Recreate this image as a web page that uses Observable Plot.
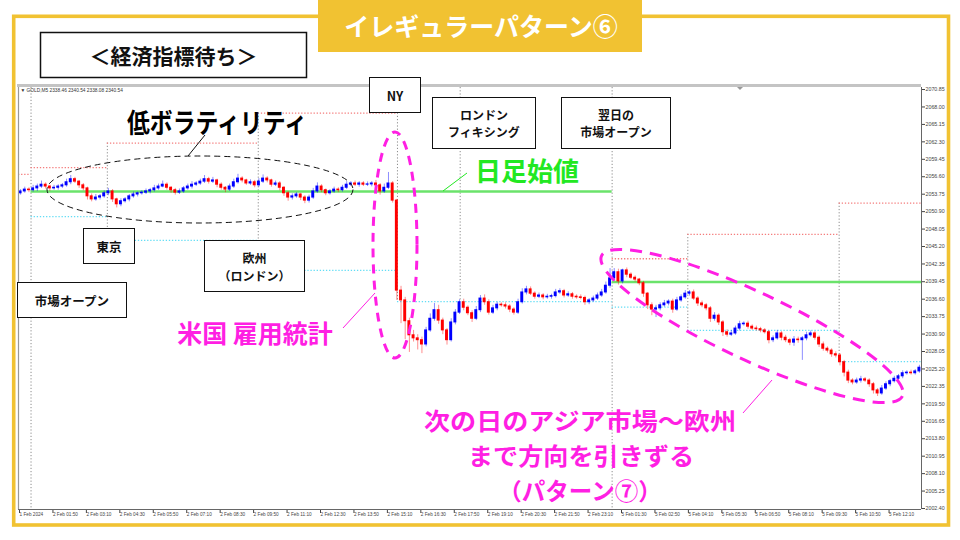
<!DOCTYPE html>
<html><head><meta charset="utf-8">
<script src="https://cdn.jsdelivr.net/npm/d3@7"></script>
<script src="https://cdn.jsdelivr.net/npm/@observablehq/plot@0.6"></script>
<style>
html,body{margin:0;padding:0;background:#fff;}
#wrap{position:relative;width:960px;height:540px;overflow:hidden;background:#fff;}
#wrap > svg{position:absolute;left:0;top:0;}
</style></head><body><div id="wrap"></div>
<script>
// ---- data (GOLD, 10-minute bars) ----
const firstOpen = 2053.9;
const closes = [
2054.2,2054.5,2054.4,2054.7,2055.0,2055.3,2055.0,2054.7,2054.8,2055.0,
2055.2,2055.7,2056.2,2055.8,2055.2,2054.7,2053.4,2052.9,2053.2,2053.4,
2053.9,2054.2,2052.9,2052.1,2052.6,2052.9,2053.4,2053.7,2053.9,2054.0,
2054.2,2054.4,2054.7,2055.0,2055.3,2054.8,2054.4,2054.0,2054.2,2054.7,
2055.0,2055.3,2055.5,2055.8,2056.2,2055.8,2056.0,2055.3,2054.8,2054.5,
2055.0,2055.7,2056.3,2056.0,2055.5,2055.7,2055.2,2055.8,2056.3,2056.0,
2055.3,2055.5,2054.8,2053.9,2053.2,2053.4,2053.7,2053.2,2052.7,2053.2,
2054.2,2055.0,2054.4,2053.9,2054.2,2054.5,2054.4,2054.8,2055.3,2055.5,
2055.3,2055.5,2055.3,2055.35,2055.5,2055.2,2054.2,2054.8,2055.5,2052.7,
2038.0,2036.4,2033.0,2030.7,2030.2,2029.9,2029.2,2031.5,2033.4,2034.8,
2033.1,2031.5,2029.9,2032.8,2034.4,2036.1,2035.2,2034.3,2033.4,2034.8,
2036.7,2036.1,2034.4,2035.1,2035.7,2035.6,2035.4,2034.9,2034.4,2036.1,
2037.7,2038.2,2037.5,2037.0,2037.2,2036.9,2037.0,2037.1,2037.7,2037.9,
2037.2,2037.4,2037.0,2036.9,2036.8,2036.1,2036.4,2036.7,2037.2,2037.7,
2038.8,2040.0,2041.0,2039.5,2041.3,2040.6,2040.1,2039.8,2039.2,2037.5,
2035.6,2034.9,2035.1,2035.6,2035.9,2036.2,2034.9,2036.4,2036.9,2037.5,
2037.7,2036.7,2035.9,2035.6,2035.1,2033.4,2033.9,2032.8,2031.2,2030.8,
2031.0,2031.8,2032.5,2032.6,2032.1,2031.8,2031.7,2031.5,2031.2,2029.9,
2030.2,2031.0,2030.3,2029.9,2029.5,2030.0,2029.9,2030.2,2030.7,2031.0,
2030.3,2029.2,2028.5,2028.2,2027.6,2027.4,2026.3,2024.6,2023.3,2023.0,
2023.3,2023.5,2023.3,2022.7,2021.7,2021.2,2022.0,2022.7,2023.2,2023.6,
2024.0,2024.5,2024.6,2024.5,2024.8,2025.4];
const upWick = [
0.3,0.4,0.3,0.5,0.4,0.6,0.3,0.2,0.4,0.3,0.3,0.5,0.6,0.3,0.2,0.3,0.2,0.4,0.5,0.3,
0.4,0.5,0.3,0.2,0.4,0.3,0.3,0.4,0.2,0.3,0.4,0.3,0.5,0.4,0.6,0.3,0.2,0.3,0.4,0.3,
0.4,0.5,0.3,0.4,0.6,0.3,0.5,0.2,0.3,0.2,0.4,0.5,0.7,0.3,0.2,0.4,0.3,0.5,0.6,0.3,
0.2,0.4,0.3,0.2,0.3,0.4,0.3,0.2,0.3,0.4,0.5,0.6,0.3,0.2,0.3,0.4,0.3,0.4,0.5,0.3,
0.4,0.3,0.3,0.4,0.3,0.5,0.3,0.6,1.8,0.3,0.2,0.7,0.5,0.5,0.8,0.6,0.5,0.5,0.8,1.1,
0.8,0.4,0.3,0.6,0.5,0.4,0.5,0.3,0.4,0.6,0.5,0.6,0.4,0.5,0.4,0.3,0.4,0.3,0.3,0.5,
0.6,0.5,0.4,0.3,0.4,0.3,0.4,0.3,0.5,0.4,0.3,0.4,0.3,0.3,0.4,0.3,0.3,0.4,0.4,0.5,
0.6,1.6,0.6,0.5,0.2,0.4,0.3,0.3,0.2,0.3,0.2,0.4,0.5,0.4,0.5,0.3,0.4,0.5,0.4,0.5,
0.3,0.4,0.3,0.4,0.3,0.3,0.5,0.3,0.3,0.4,0.5,0.4,0.5,0.3,0.4,0.3,0.4,0.3,0.3,0.3,
0.4,0.5,0.3,0.4,0.3,0.5,0.4,0.3,0.5,0.4,0.3,0.3,0.4,0.3,0.3,0.4,0.3,0.3,0.4,0.3,
0.4,0.5,0.3,0.3,0.3,0.3,0.5,0.4,0.3,0.4,0.3,0.4,0.3,0.4,0.3,0.4];
const downWick = [
0.3,0.3,0.4,0.3,0.5,0.3,0.4,0.5,0.3,0.4,0.3,0.3,0.4,0.3,0.5,0.4,0.6,0.4,0.3,0.4,
0.3,0.4,0.5,0.6,0.4,0.3,0.4,0.3,0.4,0.3,0.3,0.4,0.3,0.3,0.2,0.4,0.5,0.4,0.3,0.3,
0.3,0.4,0.3,0.3,0.3,0.4,0.3,0.5,0.4,0.5,0.3,0.3,0.3,0.4,0.3,0.3,0.4,0.3,0.3,0.4,
0.4,0.3,0.5,0.5,0.6,0.4,0.3,0.5,0.5,0.4,0.3,0.3,0.4,0.4,0.3,0.3,0.4,0.3,0.3,0.3,
0.3,0.4,0.3,0.3,0.4,0.3,0.6,0.3,0.3,0.4,1.6,3.8,3.0,2.8,0.6,1.6,1.5,0.4,0.3,0.4,
0.6,0.7,0.8,0.3,0.4,0.3,0.5,0.4,0.6,0.3,0.4,0.5,0.4,0.3,0.4,0.3,0.4,0.5,0.4,0.3,
0.3,0.4,0.3,0.4,0.3,0.4,0.3,0.4,0.3,0.3,0.4,0.3,0.4,0.3,0.3,0.5,0.4,0.3,0.3,0.3,
0.3,0.4,0.5,0.6,0.4,0.5,0.3,0.4,0.4,0.6,0.7,1.0,1.3,0.4,0.3,0.4,0.6,0.3,0.3,0.3,
0.4,0.3,0.5,0.4,0.4,0.6,0.4,0.5,0.7,0.4,0.3,0.3,0.4,0.3,0.4,0.3,0.3,0.4,0.3,0.6,
0.4,0.3,0.5,0.4,0.5,0.6,0.5,3.3,0.4,0.3,0.4,0.5,0.4,0.4,0.5,0.4,0.6,0.7,0.5,0.4,
0.3,0.4,0.3,0.5,0.6,0.5,0.3,0.3,0.4,0.3,0.3,0.4,0.3,0.3,0.3,0.3];

// x axis: M5 bar index; labels every 16 bars
const xTickLabels = ["1 Feb 2024","2 Feb 01:50","2 Feb 03:10","2 Feb 04:30","2 Feb 05:50","2 Feb 07:10","2 Feb 08:30","2 Feb 09:50","2 Feb 11:10","2 Feb 12:30","2 Feb 13:50","2 Feb 15:10","2 Feb 16:30","2 Feb 17:50","2 Feb 19:10","2 Feb 20:30","2 Feb 21:50","2 Feb 23:10","5 Feb 01:30","5 Feb 02:50","5 Feb 04:10","5 Feb 05:30","5 Feb 06:50","5 Feb 08:10","5 Feb 09:30","5 Feb 10:50","5 Feb 12:10"];
const xTickIndex = [0,16,32,48,64,80,96,112,128,144,160,176,192,208,224,240,256,272,288,304,320,336,352,368,384,400,416];
const yTicks = [2002.40,2005.25,2008.10,2010.95,2013.80,2016.65,2019.50,2022.35,2025.20,2028.05,2030.90,2033.75,2036.60,2039.45,2042.35,2045.20,2048.05,2050.90,2053.75,2056.60,2059.45,2062.30,2065.15,2068.00,2070.85];

// daily open (green), session highs (red dotted), session lows (cyan dotted)
const dailyOpens = [{i0:6, i1:284, price:2054.2},{i0:284, i1:432, price:2039.4}];
const sessionHighs = [{i0:0,i1:6,price:2057.0},{i0:6,i1:42.5,price:2058.1},{i0:42.5,i1:114.7,price:2062.1},{i0:114.7,i1:181.3,price:2067.0},{i0:284,i1:320.2,price:2043.2},{i0:320.2,i1:392.6,price:2047.2},{i0:392.6,i1:432,price:2052.3}];
const sessionLows = [{i0:6,i1:42.5,price:2050.1},{i0:42.5,i1:114.7,price:2046.2},{i0:114.7,i1:181.3,price:2041.3},{i0:181.3,i1:284,price:2036.2},{i0:284,i1:320.2,price:2035.3},{i0:320.2,i1:392.6,price:2031.5},{i0:392.6,i1:432,price:2026.4}];
const sessionEdges = [{i:42.5,top:2062.1,bottom:2046.2},{i:114.7,top:2067.0,bottom:2041.3},{i:181.3,top:2071.18,bottom:2036.2},{i:211.3,top:2071.18,bottom:2036.2},{i:320.2,top:2047.2,bottom:2031.5},{i:392.6,top:2052.3,bottom:2026.4}];
const daySeparators = [6, 284];

const yDomain = [2002.24, 2071.18];
const xDomain = [0, 432];

const bars = closes.map((c, j) => {
  const o = j === 0 ? firstOpen : closes[j - 1];
  return {i: 2 * j + 1, open: o, close: c,
    high: Math.max(o, c) + upWick[j], low: Math.min(o, c) - downWick[j],
    color: c >= o ? "#0000FF" : "#FF0000"};
});
const labelOf = new Map(xTickIndex.map((d, k) => [d, xTickLabels[k]]));

const chart = Plot.plot({
  width: 960, height: 540,
  marginLeft: 18, marginRight: 39, marginTop: 87, marginBottom: 31,
  style: {background: "transparent", fontFamily: "'Liberation Sans', Arial, sans-serif"},
  x: {domain: xDomain},
  y: {domain: yDomain},
  color: {type: "identity"},
  marks: [
    Plot.ruleX(daySeparators, {stroke: "#8c8c8c", strokeDasharray: "1.2,2", strokeWidth: 1}),
    Plot.ruleX(sessionEdges, {x: "i", y1: "top", y2: "bottom", stroke: "#8c8c8c", strokeDasharray: "1.2,2", strokeWidth: 1}),
    Plot.ruleY(sessionHighs, {y: "price", x1: "i0", x2: "i1", stroke: "#F47C7C", strokeDasharray: "1.3,1.8", strokeWidth: 1.3}),
    Plot.ruleY(sessionLows, {y: "price", x1: "i0", x2: "i1", stroke: "#62DDF5", strokeDasharray: "1.3,1.8", strokeWidth: 1.3}),
    Plot.ruleY(dailyOpens, {y: "price", x1: "i0", x2: "i1", stroke: "#6BE36B", strokeWidth: 2.4}),
    Plot.ruleX(bars, {x: "i", y1: "low", y2: "high", stroke: "color", strokeOpacity: 0.45, strokeWidth: 1}),
    Plot.rect(bars, {x1: d => d.i - 0.7, x2: d => d.i + 0.7, y1: "open", y2: "close", fill: "color", insetTop: -0.5, insetBottom: -0.5}),
    Plot.axisY(yTicks, {anchor: "right", tickSize: 3, tickPadding: 1, tickFormat: d => d.toFixed(2), fontSize: 5.3, color: "#444", label: null}),
    Plot.axisX(xTickIndex, {anchor: "bottom", tickSize: 4, tickPadding: -1, tickFormat: d => labelOf.get(d), textAnchor: "start", dx: 1, fontSize: 4.7, color: "#444", label: null}),
    Plot.ruleY([yDomain[0]], {stroke: "#666", strokeWidth: 1}),
    Plot.ruleX([xDomain[1]], {stroke: "#666", strokeWidth: 1}),
    Plot.ruleX([xDomain[0]], {stroke: "#999", strokeWidth: 1.2})
  ]
});
document.getElementById("wrap").appendChild(chart);

// ---- annotation layer ----
const JP = "'Noto Sans CJK JP','Noto Sans',sans-serif";
const MAG = "#FF1FE3";
const overlay = `
<svg width="960" height="540" xmlns="http://www.w3.org/2000/svg" style="font-family:${JP}">
  <rect x="17" y="84" width="904" height="3" fill="#C4C4C4"/>
  <path d="M737,87 L743,87 L740,90 Z" fill="#999"/>
  <text x="20.5" y="91.5" font-family="'Liberation Sans',Arial" font-size="4.8" fill="#333">▼ GOLD,M5  2338.46 2340.54 2338.08 2340.54</text>

  <rect x="13.7" y="16.3" width="934.8" height="508.7" fill="none" stroke="#F1C232" stroke-width="3.6"/>
  <rect x="318" y="0" width="324" height="52" fill="#F1C232"/>
  <text x="481" y="25" text-anchor="middle" dominant-baseline="central" font-size="25" font-weight="bold" fill="#fff">イレギュラーパターン⑥</text>

  <rect x="40.5" y="32.5" width="266" height="45" fill="#fff" stroke="#111" stroke-width="1.5"/>
  <text x="173.5" y="55" text-anchor="middle" dominant-baseline="central" font-size="21" font-weight="bold" fill="#111">＜経済指標待ち＞</text>

  <ellipse cx="200" cy="189.5" rx="153" ry="33.5" fill="none" stroke="#111" stroke-width="1" stroke-dasharray="6,4"/>
  <line x1="205" y1="135" x2="188" y2="156" stroke="#111" stroke-width="1"/>
  <text x="217" y="121" text-anchor="middle" dominant-baseline="central" font-size="27" font-weight="bold" fill="#000" textLength="180" lengthAdjust="spacingAndGlyphs">低ボラティリティ</text>

  <line x1="467" y1="173" x2="443" y2="191" stroke="#22E822" stroke-width="1"/>
  <text x="527" y="169" text-anchor="middle" dominant-baseline="central" font-size="26" font-weight="bold" fill="#22E822">日足始値</text>

  <ellipse cx="395" cy="245" rx="22" ry="113" fill="none" stroke="${MAG}" stroke-width="3" stroke-dasharray="9,7"/>
  <line x1="343" y1="328" x2="375" y2="293" stroke="${MAG}" stroke-width="1"/>
  <text x="255" y="332" text-anchor="middle" dominant-baseline="central" font-size="25" font-weight="bold" fill="${MAG}">米国 雇用統計</text>

  <ellipse cx="752" cy="326" rx="166" ry="34" transform="rotate(25 752 326)" fill="none" stroke="${MAG}" stroke-width="3" stroke-dasharray="12,8"/>
  <line x1="743" y1="413" x2="772" y2="380" stroke="${MAG}" stroke-width="1"/>
  <g font-size="23.5" font-weight="bold" fill="${MAG}" text-anchor="middle" dominant-baseline="central">
    <text x="580" y="420" textLength="312" lengthAdjust="spacingAndGlyphs">次の日のアジア市場～欧州</text>
    <text x="581" y="455" textLength="226" lengthAdjust="spacingAndGlyphs">まで方向を引きずる</text>
    <text x="580" y="490">（パターン⑦）</text>
  </g>

  <g fill="#fff" stroke="#111" stroke-width="1">
    <rect x="369.5" y="77.5" width="51" height="35"/>
    <rect x="432.5" y="97.5" width="103" height="51"/>
    <rect x="561.5" y="97.5" width="109" height="51"/>
    <rect x="83.5" y="228.5" width="51" height="35"/>
    <rect x="204.5" y="240.5" width="100" height="51"/>
    <rect x="17.5" y="282.5" width="109" height="35"/>
  </g>
  <g font-size="12" font-weight="bold" fill="#111" text-anchor="middle" dominant-baseline="central">
    <text x="395" y="95" font-size="12.5">NY</text>
    <text x="484" y="114">ロンドン</text>
    <text x="484" y="131.5">フィキシング</text>
    <text x="616" y="114">翌日の</text>
    <text x="616" y="131.5">市場オープン</text>
    <text x="109" y="246" font-size="12.5">東京</text>
    <text x="254.5" y="257.5">欧州</text>
    <text x="254.5" y="275">（ロンドン）</text>
    <text x="72" y="300" font-size="12.5">市場オープン</text>
  </g>
</svg>`;
document.getElementById("wrap").insertAdjacentHTML("beforeend", overlay);
</script>
</body></html>
